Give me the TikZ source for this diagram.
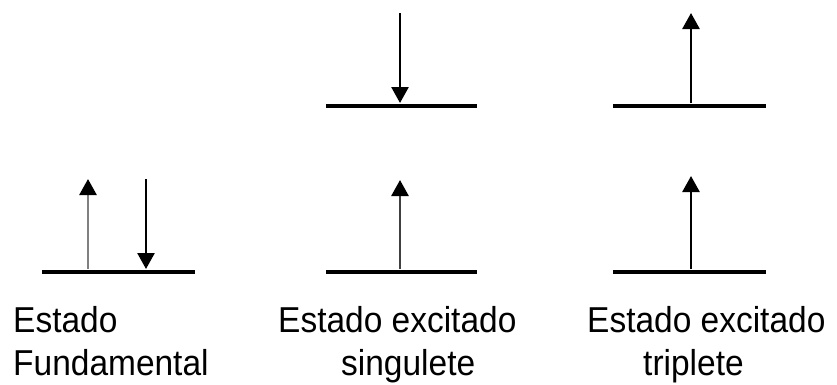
\documentclass[tikz,border=0pt]{standalone}
\usepackage{fontspec}
\setmainfont{Liberation Sans}
\newfontfamily\labfont[FakeStretch=0.93]{Liberation Sans}
\usetikzlibrary{arrows.meta}
\tikzset{
  level/.style={line width=4.5pt},
  spin/.style={line width=2.6pt, -{Triangle[width=17pt,length=16pt,color=black]}},
  spingrey/.style={spin, draw=black!50},
  statelabel/.style={font=\labfont\fontsize{36}{43}\selectfont, anchor=north west,
                     inner sep=0pt, align=left},
}
\begin{document}
\begin{tikzpicture}[x=1pt, y=-1pt]
  \useasboundingbox (0,0) rectangle (837,384);

  % energy levels
  \coordinate (f1) at (42,272);  \coordinate (f2) at (195,272);
  \coordinate (sl1) at (326,272); \coordinate (sl2) at (477,272);
  \coordinate (su1) at (326,106); \coordinate (su2) at (477,106);
  \coordinate (tl1) at (613,272); \coordinate (tl2) at (766,272);
  \coordinate (tu1) at (613,106); \coordinate (tu2) at (766,106);
  \draw[level] (f1) -- (f2);
  \draw[level] (sl1) -- (sl2);
  \draw[level] (su1) -- (su2);
  \draw[level] (tl1) -- (tl2);
  \draw[level] (tu1) -- (tu2);

  % spin arrows: ground state
  \coordinate (fa0) at (88,269);  \coordinate (fa1) at (88,179);
  \coordinate (fb0) at (146,179); \coordinate (fb1) at (146,269);
  \draw[spingrey] (fa0) -- (fa1);
  \draw[spin] (fb0) -- (fb1);

  % spin arrows: singlet
  \coordinate (sa0) at (400,269); \coordinate (sa1) at (400,180);
  \coordinate (sb0) at (400,13);  \coordinate (sb1) at (400,103);
  \draw[spin, draw=black!75] (sa0) -- (sa1);
  \draw[spin] (sb0) -- (sb1);

  % spin arrows: triplet
  \coordinate (ta0) at (691,269); \coordinate (ta1) at (691,176);
  \coordinate (tb0) at (691,103); \coordinate (tb1) at (691,13);
  \draw[spin] (ta0) -- (ta1);
  \draw[spin] (tb0) -- (tb1);

  % captions
  \node[statelabel] (lf) at (13,306) {Estado\\Fundamental};
  \node[statelabel] (ls) at (278,306) {Estado excitado\\\hspace*{63pt}singulete};
  \node[statelabel] (lt) at (587,306) {Estado excitado\\\hspace*{56pt}triplete};
\end{tikzpicture}
\end{document}
